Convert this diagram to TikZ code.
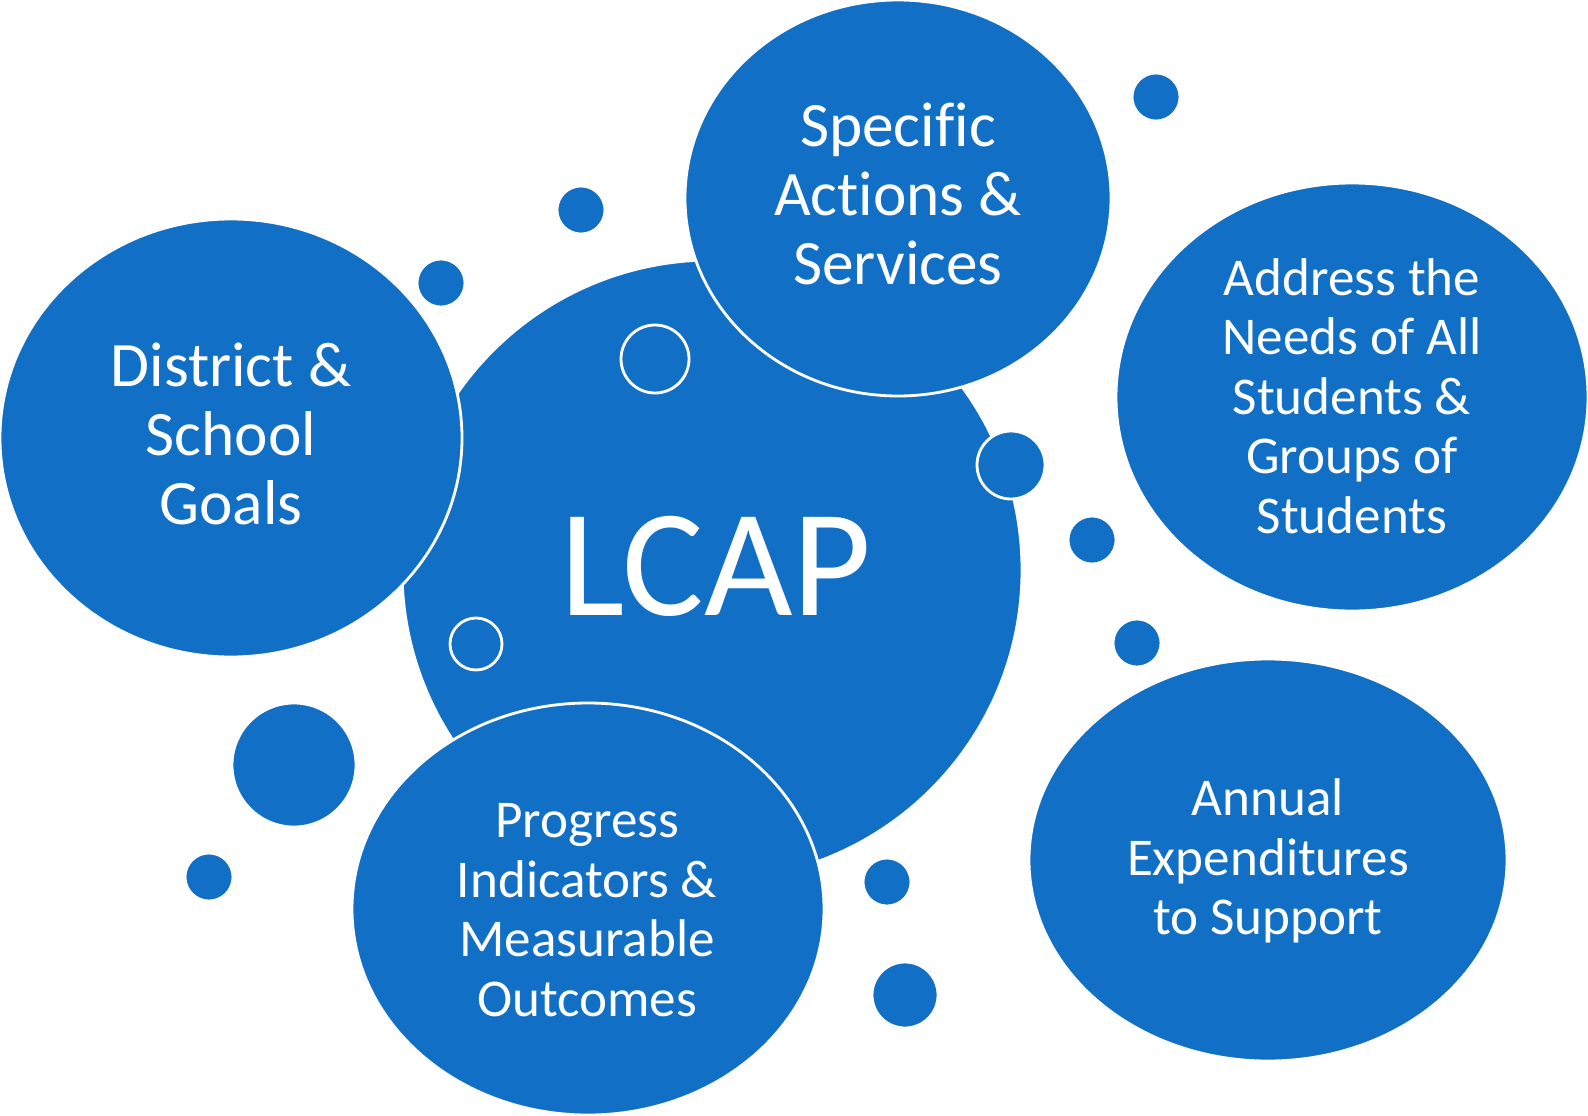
\documentclass[tikz,border=0pt]{standalone}
\usepackage{fontspec}
\setmainfont[Ligatures=NoCommon]{Carlito}
\usetikzlibrary{positioning}
\definecolor{lcapblue}{RGB}{17,112,198}

\tikzset{
  bubble/.style={fill=lcapblue, draw=white, line width=0.8pt},
  ring/.style={draw=white, line width=0.8pt},
  bigtext/.style={white, align=center, font=\fontsize{18}{19.6}\selectfont},
  smalltext/.style={white, align=center, font=\fontsize{15.1}{16.9}\selectfont}
}

\begin{document}
\begin{tikzpicture}[x=0.01cm, y=-0.01cm]
  \useasboundingbox (0, 0) rectangle (1588, 1115);

  \fill[bubble] (712, 570) circle [radius=310];
  \draw[ring] (655, 359) circle [radius=34];
  \draw[ring] (476, 644) circle [radius=26];
  \node[white, font=\fontsize{43.5}{50}\selectfont, anchor=base] (lcap) at (716, 615) {LCAP};

  \fill[bubble] (231, 438) ellipse [x radius=231, y radius=219];
  \fill[bubble] (898, 198) ellipse [x radius=213, y radius=198];
  \fill[bubble] (1352, 397) ellipse [x radius=236, y radius=214];
  \fill[bubble] (1268, 860) ellipse [x radius=239, y radius=201];
  \fill[bubble] (588, 909) ellipse [x radius=236, y radius=206];

  \fill[bubble] (1011, 465) circle [radius=34];
  \fill[bubble] (581, 210) circle [radius=24];
  \fill[bubble] (441, 283) circle [radius=24];
  \fill[bubble] (1156, 97) circle [radius=24];
  \fill[bubble] (1092, 540) circle [radius=24];
  \fill[bubble] (1137, 643) circle [radius=24];
  \fill[bubble] (294, 765) circle [radius=62];
  \fill[bubble] (209, 877) circle [radius=24];
  \fill[bubble] (887, 882) circle [radius=24];
  \fill[bubble] (905, 995) circle [radius=33];

  \node[bigtext] (goals) at (231, 434) {District \&\\School\\Goals};
  \node[bigtext] (actions) at (898, 194) {Specific\\Actions \&\\Services};
  \node[smalltext] (needs) at (1352, 396) {Address the\\Needs of All\\Students \&\\Groups of\\Students};
  \node[smalltext] (spend) at (1268, 861) {Annual\\Expenditures\\to Support};
  \node[smalltext] (progress) at (587, 910) {Progress\\Indicators \&\\Measurable\\Outcomes};
\end{tikzpicture}
\end{document}
